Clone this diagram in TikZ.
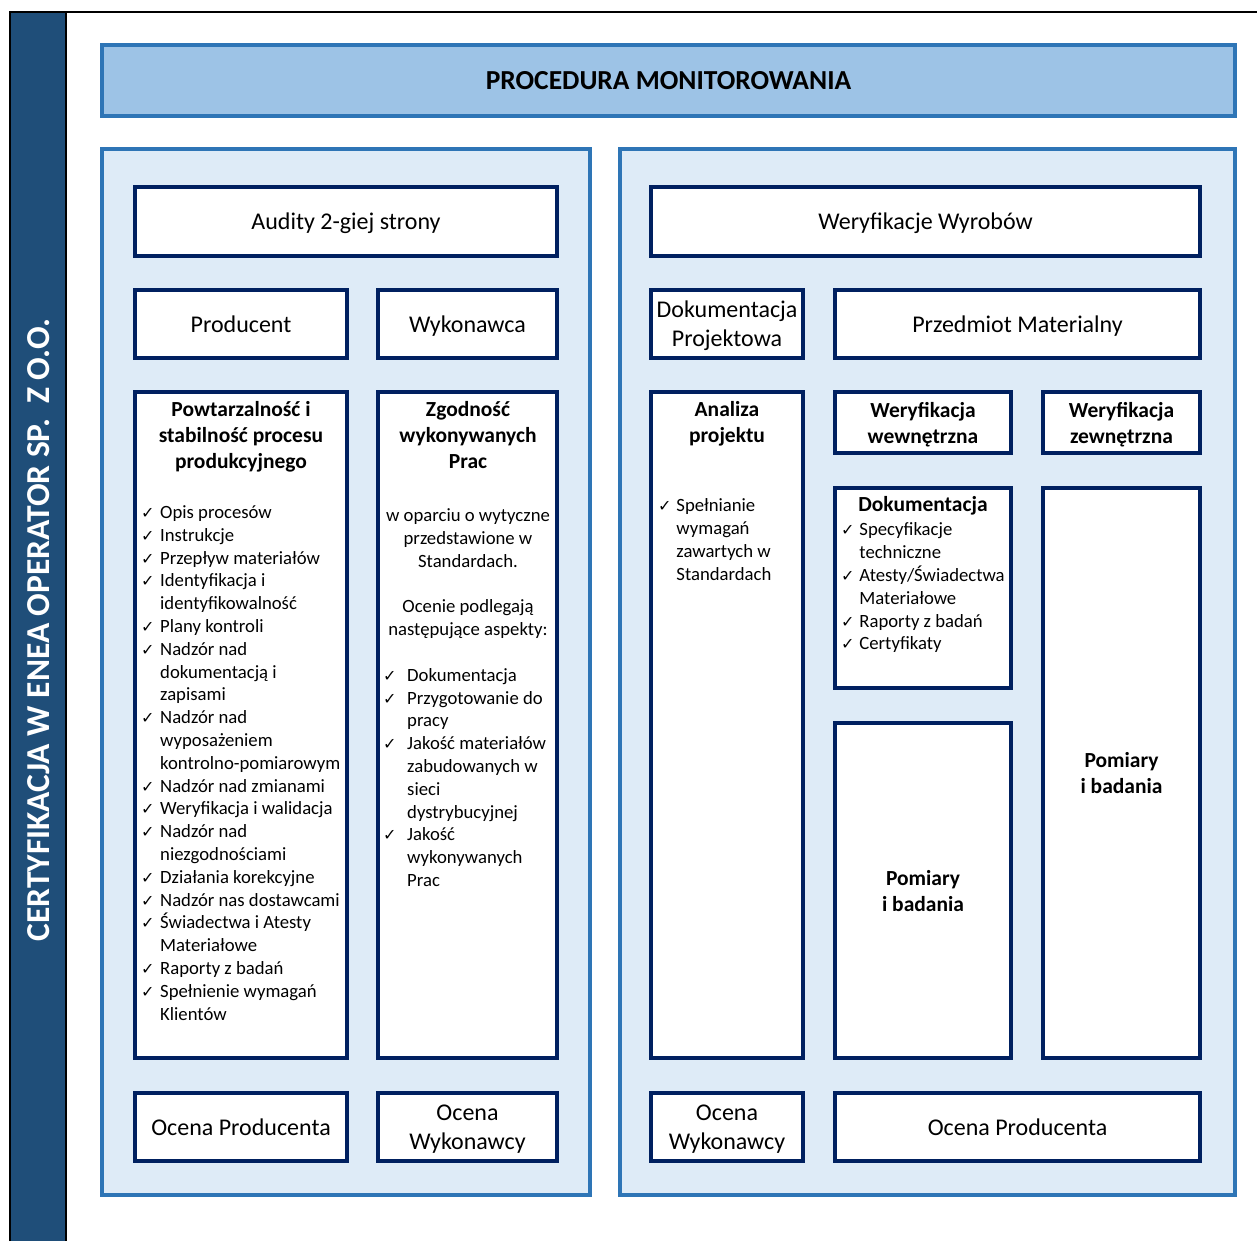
\documentclass[tikz,border=0pt]{standalone}
\usepackage{fontspec}
\setmainfont{Carlito}
\newfontfamily\tickfont{DejaVu Sans}
\usetikzlibrary{positioning}

\definecolor{barblue}{HTML}{1F4E79}
\definecolor{headfill}{HTML}{9DC3E6}
\definecolor{panelfill}{HTML}{DEEBF7}
\definecolor{panelline}{HTML}{2E75B6}
\definecolor{boxline}{HTML}{002060}

\newcommand{\labelfont}{\fontsize{24}{29}\selectfont}
\newcommand{\headfont}{\bfseries\fontsize{21.5}{26}\selectfont}
\newcommand{\listfont}{\fontsize{18.7}{22.8}\selectfont}
\newcommand{\ck}[1][19pt]{\makebox[#1][l]{\tickfont\fontsize{16}{16}\selectfont ✓}}
\newcommand{\nk}[1][19pt]{\hspace*{#1}}

\tikzset{
  panel/.style={draw=panelline, line width=4pt, fill=panelfill, inner sep=0pt},
  box/.style={draw=boxline, line width=4pt, fill=white, inner sep=0pt, align=center, text depth=0pt, font=\labelfont},
  head/.style={align=center, inner sep=0pt, text depth=0pt, font=\headfont},
  list/.style={align=left, inner sep=0pt, font=\listfont},
  intro/.style={align=center, inner sep=0pt, font=\listfont}
}

\begin{document}
\begin{tikzpicture}[x=1pt, y=-1pt]
\useasboundingbox (0,0) rectangle (1257,1241);

% ramka i pasek boczny
\fill[barblue] (10,12) rectangle (65,1241);
\draw[line width=2.5pt] (10,1241) -- (10,12) -- (1257,12);
\draw[line width=2.5pt] (66,12) -- (66,1241);
\node[rotate=90, text=white, font=\bfseries\fontsize{33.5}{36}\selectfont] (firma) at (39,630) {CERTYFIKACJA W ENEA OPERATOR SP.\ \ Z O.O.};

% naglowek
\node[draw=panelline, line width=4pt, fill=headfill, minimum width=1133, minimum height=71, font=\bfseries\fontsize{27.5}{30}\selectfont] (tytul) at (668.5,80.5) {PROCEDURA MONITOROWANIA};

% panele
\node[panel, minimum width=488, minimum height=1046] (lewy) at (346,672) {};
\node[panel, minimum width=615, minimum height=1046] (prawy) at (927.5,672) {};

% lewy panel
\node[box, minimum width=422, minimum height=69] (audyt) at (346,221.5) {Audity 2-giej strony};
\node[box, minimum width=212, minimum height=68] (producent) at (241,324) {Producent};
\node[box, minimum width=179, minimum height=68] (wykonawca) at (467.5,324) {Wykonawca};
\node[box, minimum width=212, minimum height=666] (powt) at (241,725) {};
\node[box, minimum width=179, minimum height=666] (zgod) at (467.5,725) {};
\node[box, minimum width=212, minimum height=68] (ocenaP) at (241,1127) {Ocena Producenta};
\node[box, minimum width=179, minimum height=68] (ocenaW) at (467.5,1127) {Ocena\\Wykonawcy};

\node[head] (powtH) at (241,435) {Powtarzalność i\\stabilność procesu\\produkcyjnego};
\node[list, anchor=west] (powtL) at (141,763) {%
  \ck Opis procesów\\
  \ck Instrukcje\\
  \ck Przepływ materiałów\\
  \ck Identyfikacja i\\
  \nk identyfikowalność\\
  \ck Plany kontroli\\
  \ck Nadzór nad\\
  \nk dokumentacją i\\
  \nk zapisami\\
  \ck Nadzór nad\\
  \nk wyposażeniem\\
  \nk kontrolno-pomiarowym\\
  \ck Nadzór nad zmianami\\
  \ck Weryfikacja i walidacja\\
  \ck Nadzór nad\\
  \nk niezgodnościami\\
  \ck Działania korekcyjne\\
  \ck Nadzór nas dostawcami\\
  \ck Świadectwa i Atesty\\
  \nk Materiałowe\\
  \ck Raporty z badań\\
  \ck Spełnienie wymagań\\
  \nk Klientów};

\node[head] (zgodH) at (468,435) {Zgodność\\wykonywanych\\Prac};
\node[intro] (zgodI) at (468,538) {w oparciu o wytyczne\\przedstawione w\\Standardach.};
\node[intro] (zgodO) at (468,619.5) {Ocenie podlegają\\następujące aspekty:};
\node[list, anchor=west] (zgodL) at (383,777.5) {%
  \ck[19.8pt] Dokumentacja\\
  \ck[19.8pt] Przygotowanie do\\
  \nk[19.8pt] pracy\\
  \ck[19.8pt] Jakość materiałów\\
  \nk[19.8pt] zabudowanych w\\
  \nk[19.8pt] sieci\\
  \nk[19.8pt] dystrybucyjnej\\
  \ck[19.8pt] Jakość\\
  \nk[19.8pt] wykonywanych\\
  \nk[19.8pt] Prac};

% prawy panel
\node[box, minimum width=549, minimum height=69] (weryf) at (925.5,221.5) {Weryfikacje Wyrobów};
\node[box, minimum width=152, minimum height=68] (dokproj) at (727,324) {Dokumentacja\\Projektowa};
\node[box, minimum width=365, minimum height=68] (przedmiot) at (1017.5,324) {Przedmiot Materialny};
\node[box, minimum width=152, minimum height=666] (analiza) at (727,725) {};
\node[box, minimum width=176, minimum height=61, font=\headfont] (wew) at (923,422.5) {Weryfikacja\\wewnętrzna};
\node[box, minimum width=157, minimum height=61, font=\headfont] (zew) at (1121.5,422.5) {Weryfikacja\\zewnętrzna};
\node[box, minimum width=176, minimum height=200] (dokum) at (923,588) {};
\node[box, minimum width=176, minimum height=335, font=\headfont] (pomL) at (923,890.5) {Pomiary\\i badania};
\node[box, minimum width=157, minimum height=570, font=\headfont] (pomR) at (1121.5,773) {Pomiary\\i badania};
\node[box, minimum width=152, minimum height=68] (ocenaW2) at (727,1127) {Ocena\\Wykonawcy};
\node[box, minimum width=365, minimum height=68] (ocenaP2) at (1017.5,1127) {Ocena Producenta};

\node[head] (analizaH) at (727,422) {Analiza\\projektu};
\node[list, anchor=west] (analizaL) at (658,539.5) {%
  \ck[14pt] Spełnianie\\
  \nk[14pt] wymagań\\
  \nk[14pt] zawartych w\\
  \nk[14pt] Standardach};

\node[head] (dokumH) at (923,504) {Dokumentacja};
\node[list, anchor=west] (dokumL) at (841,588) {%
  \ck[14pt] Specyfikacje\\
  \nk[14pt] techniczne\\
  \ck[14pt] Atesty/Świadectwa\\
  \nk[14pt] Materiałowe\\
  \ck[14pt] Raporty z badań\\
  \ck[14pt] Certyfikaty};
\end{tikzpicture}
\end{document}
